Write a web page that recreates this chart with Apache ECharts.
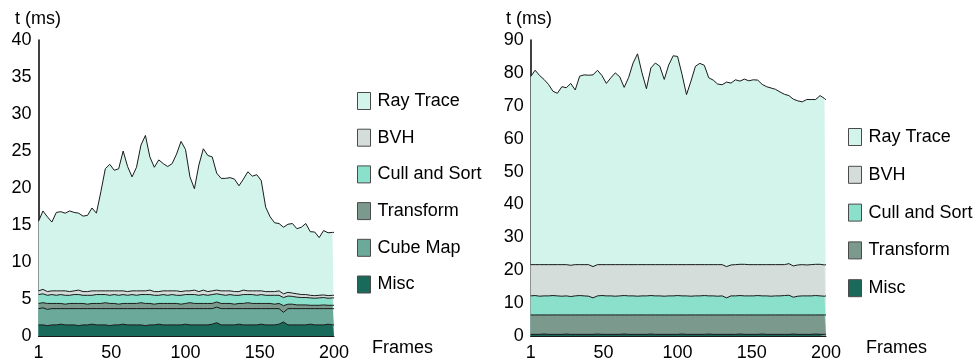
<!DOCTYPE html>
<html>
<head>
<meta charset="utf-8">
<script src="https://cdn.jsdelivr.net/npm/echarts@6/dist/echarts.min.js"></script>
<style>
html,body{margin:0;padding:0;background:#fff;}
#chart{width:973px;height:362px;}
</style>
</head>
<body>
<div id="chart"></div>
<script>
// ---- Data ----
var frames = [
  1,4,7,10,13,16,19,22,25,28,
  31,34,37,40,43,46,49,52,55,58,
  61,64,67,70,73,76,79,82,85,88,
  91,94,97,100,103,106,109,112,115,118,
  121,124,127,130,133,136,139,142,145,148,
  151,154,157,160,163,166,169,172,175,178,
  181,184,187,190,193,196,199,200
];
var xTickLabels = [1, 50, 100, 150, 200];

// Left chart components (ms)
var leftMisc = [
  1.5,1.5,1.4,1.5,1.5,1.6,1.5,1.5,1.5,1.4,
  1.5,1.5,1.6,1.5,1.5,1.5,1.4,1.5,1.5,1.6,
  1.5,1.5,1.5,1.5,1.4,1.5,1.5,1.6,1.5,1.5,
  1.5,1.5,1.5,1.6,1.5,1.5,1.5,1.5,1.5,1.6,
  1.8,1.5,1.5,1.5,1.5,1.6,1.5,1.5,1.5,1.5,
  1.6,1.5,1.5,1.5,1.6,1.9,1.5,1.5,1.5,1.5,
  1.5,1.6,1.5,1.5,1.5,1.6,1.5,1.5
];
var leftCubeMap = [
  2.2,2.3,2.2,2.2,2.2,2.1,2.2,2.2,2.2,2.3,
  2.2,2.2,2.1,2.2,2.2,2.2,2.3,2.2,2.2,2.1,
  2.2,2.2,2.2,2.2,2.3,2.2,2.2,2.1,2.2,2.2,
  2.2,2.2,2.2,2.1,2.2,2.2,2.2,2.2,2.2,2.1,
  2.1,2.2,2.2,2.2,2.2,2.1,2.2,2.2,2.2,2.2,
  2.1,2.2,2.2,2.2,2.1,1.3,2.2,2.2,2.2,2.2,
  2.2,2.1,2.2,2.2,2.2,2.1,2.2,2.2
];
var leftTransform = [
  0.7,0.7,0.8,0.7,0.7,0.7,0.6,0.7,0.7,0.7,
  0.7,0.6,0.7,0.7,0.7,0.8,0.7,0.7,0.6,0.7,
  0.7,0.7,0.7,0.8,0.7,0.7,0.6,0.7,0.7,0.7,
  0.7,0.7,0.6,0.7,0.8,0.7,0.7,0.7,0.7,0.7,
  0.7,0.7,0.7,0.7,0.6,0.7,0.7,0.8,0.7,0.7,
  0.7,0.7,0.7,0.6,0.7,0.9,0.6,0.6,0.5,0.5,
  0.5,0.45,0.45,0.45,0.5,0.45,0.45,0.45
];
var leftCull = [
  1.2,1.2,1.1,1.2,1.1,1.2,1.2,1.1,1.2,1.2,
  1.1,1.2,1.1,1.2,1.2,1.1,1.1,1.2,1.2,1.2,
  1.1,1.2,1.1,1.1,1.2,1.2,1.2,1.1,1.2,1.1,
  1.2,1.1,1.2,1.2,1.1,1.2,1.1,1.2,1.1,1.2,
  1.1,1.2,1.1,1.2,1.2,1.1,1.2,1.1,1.2,1.1,
  1.2,1.1,1.1,1.2,1.1,1.1,1.1,1.05,1.05,1.0,
  1.0,1.0,0.95,1.0,1.0,0.95,1.0,1.0
];
var leftBVH = [
  0.5,0.6,0.5,0.5,0.6,0.5,0.6,0.5,0.5,0.6,
  0.5,0.5,0.6,0.5,0.5,0.5,0.6,0.5,0.6,0.5,
  0.5,0.5,0.6,0.5,0.5,0.6,0.5,0.5,0.5,0.6,
  0.5,0.6,0.5,0.5,0.5,0.6,0.5,0.6,0.5,0.5,
  0.5,0.5,0.6,0.5,0.5,0.5,0.6,0.5,0.5,0.6,
  0.5,0.5,0.5,0.5,0.6,0.5,0.5,0.45,0.45,0.4,
  0.4,0.35,0.35,0.35,0.35,0.35,0.35,0.35
];
var leftRayTrace = [
  9.4,10.6,10.1,9.3,10.6,10.7,10.5,10.9,10.6,10.4,
  10.2,10.3,11.2,10.5,13.4,16.5,17.1,16.3,16.5,18.9,
  16.9,15.4,16.7,19.7,21.0,18.0,16.8,17.8,17.2,16.8,
  17.2,18.5,20.3,19.1,15.4,13.7,17.1,19.1,18.4,18.1,
  15.8,15.2,15.2,15.3,15.2,14.3,15.0,16.1,15.5,15.7,
  14.9,11.4,10.1,9.3,9.1,9.0,9.2,9.4,8.8,9.1,
  9.6,8.6,8.6,7.8,8.7,8.5,8.5,8.5
];

// Right chart components (ms)
var rightMisc = [
  0.5,0.5,0.5,0.6,0.5,0.5,0.5,0.5,0.6,0.5,
  0.5,0.5,0.5,0.5,0.5,0.6,0.5,0.5,0.5,0.5,
  0.5,0.6,0.5,0.5,0.5,0.5,0.5,0.6,0.5,0.5,
  0.5,0.5,0.5,0.5,0.6,0.5,0.5,0.5,0.5,0.5,
  0.6,0.5,0.5,0.5,0.5,0.5,0.5,0.6,0.5,0.5,
  0.5,0.5,0.6,0.5,0.5,0.5,0.5,0.5,0.5,0.6,
  0.5,0.5,0.5,0.5,0.6,0.5,0.5,0.5
];
var rightTransform = [
  5.9,5.9,5.9,5.8,5.9,5.9,5.9,5.9,5.8,5.9,
  5.9,5.9,5.9,5.9,5.9,5.8,5.9,5.9,5.9,5.9,
  5.9,5.8,5.9,5.9,5.9,5.9,5.9,5.8,5.9,5.9,
  5.9,5.9,5.9,5.9,5.8,5.9,5.9,5.9,5.9,5.9,
  5.8,5.9,5.9,5.9,5.9,5.9,5.9,5.8,5.9,5.9,
  5.9,5.9,5.8,5.9,5.9,5.9,5.9,5.9,5.9,5.8,
  5.9,5.9,5.9,5.9,5.8,5.9,5.9,5.9
];
var rightCull = [
  5.8,5.9,5.7,5.8,5.8,5.9,5.8,5.7,5.8,5.6,
  5.8,5.9,5.8,5.7,5.2,5.8,5.9,5.8,5.8,5.7,
  5.8,5.9,5.8,5.8,5.7,5.8,5.8,5.9,5.8,5.8,
  5.7,5.8,5.8,5.9,5.8,5.8,5.7,5.8,5.8,5.9,
  5.8,5.8,5.7,5.8,5.2,5.8,5.8,5.9,5.8,5.8,
  5.8,5.9,5.8,5.8,5.7,5.8,5.8,5.9,6.0,5.4,
  5.7,5.8,5.8,5.8,5.9,5.8,5.7,5.8
];
var rightBVH = [
  9.5,9.4,9.6,9.5,9.5,9.4,9.5,9.6,9.5,9.5,
  9.5,9.4,9.5,9.6,9.5,9.5,9.4,9.5,9.5,9.6,
  9.5,9.4,9.5,9.5,9.6,9.5,9.5,9.4,9.5,9.5,
  9.6,9.5,9.5,9.4,9.5,9.5,9.6,9.5,9.5,9.4,
  9.5,9.5,9.6,9.5,9.5,9.4,9.5,9.5,9.6,9.5,
  9.5,9.4,9.5,9.5,9.6,9.5,9.5,9.4,9.6,9.5,
  9.5,9.5,9.4,9.5,9.5,9.6,9.5,9.5
];
var rightRayTrace = [
  57.2,59.1,57.5,56.3,54.8,52.7,52.1,54.1,53.8,55.3,
  53.1,57.3,57.7,57.6,58.3,59.1,57.5,55.1,56.8,58.3,
  57.1,53.9,56.9,61.3,64.1,58.3,53.5,59.8,61.3,60.3,
  56.3,60.7,63.5,63.3,57.8,51.7,55.8,60.3,61.2,60.6,
  56.8,56.1,54.9,54.7,56.1,55.3,56.2,55.7,56.3,55.9,
  56.2,56.1,54.8,54.1,53.7,53.3,52.5,51.8,51.1,50.7,
  49.9,49.5,50.3,50.2,50.1,51.3,50.6,50.1
];

var leftNames = ['Ray Trace', 'BVH', 'Cull and Sort', 'Transform', 'Cube Map', 'Misc'];
var rightNames = ['Ray Trace', 'BVH', 'Cull and Sort', 'Transform', 'Misc'];

// ---- Styling ----
var FONT = "'Liberation Sans', Arial, Helvetica, sans-serif";
var colors = {
  'Ray Trace': '#d2f4ea',
  'BVH': '#d4ddd9',
  'Cull and Sort': '#8be0cb',
  'Transform': '#7b9a8d',
  'Cube Map': '#6ba99a',
  'Misc': '#1a6a5b'
};

// Build stacked (cumulative) layers, bottom layer first; draw top layer first
function buildStack(layers, idx) {
  var cum = frames.map(function () { return 0; });
  var out = [];
  layers.forEach(function (layer) {
    var name = layer[0], values = layer[1];
    if (values.length !== frames.length) throw new Error('length mismatch ' + name + ' ' + values.length);
    cum = cum.map(function (c, i) { return +(c + values[i]).toFixed(3); });
    var pts = frames.map(function (f, i) { return [f, cum[i]]; });
    out.push({
      name: name,
      type: 'line',
      xAxisIndex: idx,
      yAxisIndex: idx,
      symbol: 'none',
      showSymbol: false,
      silent: true,
      animation: false,
      itemStyle: { color: colors[name] },
      lineStyle: { color: '#1a1a1a', width: 1 },
      areaStyle: { color: colors[name], opacity: 1, origin: 'start' },
      data: pts
    });
  });
  return out.reverse();
}

var series = buildStack([
  ['Misc', leftMisc], ['Cube Map', leftCubeMap], ['Transform', leftTransform],
  ['Cull and Sort', leftCull], ['BVH', leftBVH], ['Ray Trace', leftRayTrace]
], 0).concat(buildStack([
  ['Misc', rightMisc], ['Transform', rightTransform],
  ['Cull and Sort', rightCull], ['BVH', rightBVH], ['Ray Trace', rightRayTrace]
], 1));

function xAxis(idx) {
  return {
    type: 'value', gridIndex: idx, min: 1, max: 200,
    axisLine: { show: true, lineStyle: { color: '#1a1a1a', width: 1 } },
    axisTick: { show: false },
    splitLine: { show: false },
    axisLabel: {
      customValues: xTickLabels,
      fontSize: 18, color: '#000', fontFamily: FONT, margin: 8
    }
  };
}
function yAxis(idx, max, interval) {
  return {
    type: 'value', gridIndex: idx, min: 0, max: max, interval: interval,
    axisLine: { show: true, lineStyle: { color: '#000', width: 1.5 } },
    axisTick: { show: false },
    splitLine: { show: false },
    axisLabel: { fontSize: 18, color: '#000', fontFamily: FONT, margin: 7 }
  };
}
function legend(names, left, top, gap) {
  return {
    orient: 'vertical', left: left, top: top,
    icon: 'rect', itemWidth: 13, itemHeight: 17, itemGap: gap,
    selectedMode: false,
    itemStyle: { borderColor: '#4a4a4a', borderWidth: 1 },
    textStyle: { fontSize: 18, color: '#000', fontFamily: FONT, padding: [0, 0, 0, 2] },
    data: names
  };
}

var chart = echarts.init(document.getElementById('chart'), null, { renderer: 'canvas' });
chart.setOption({
  animation: false,
  backgroundColor: '#fff',
  grid: [
    { left: 38.5, top: 40, width: 295.5, height: 297 },
    { left: 530.7, top: 40, width: 295.3, height: 297 }
  ],
  xAxis: [xAxis(0), xAxis(1)],
  yAxis: [yAxis(0, 40, 5), yAxis(1, 90, 10)],
  legend: [
    legend(leftNames, 352, 87, 18.7),
    legend(rightNames, 843, 123, 19.8)
  ],
  graphic: [
    { type: 'text', left: 15, top: 10, style: { text: 't (ms)', font: '18px ' + FONT, fill: '#000' } },
    { type: 'text', left: 506, top: 10, style: { text: 't (ms)', font: '18px ' + FONT, fill: '#000' } },
    { type: 'text', left: 372, top: 339, style: { text: 'Frames', font: '18px ' + FONT, fill: '#000' } },
    { type: 'text', left: 866, top: 339, style: { text: 'Frames', font: '18px ' + FONT, fill: '#000' } }
  ],
  series: series
});
</script>
</body>
</html>
